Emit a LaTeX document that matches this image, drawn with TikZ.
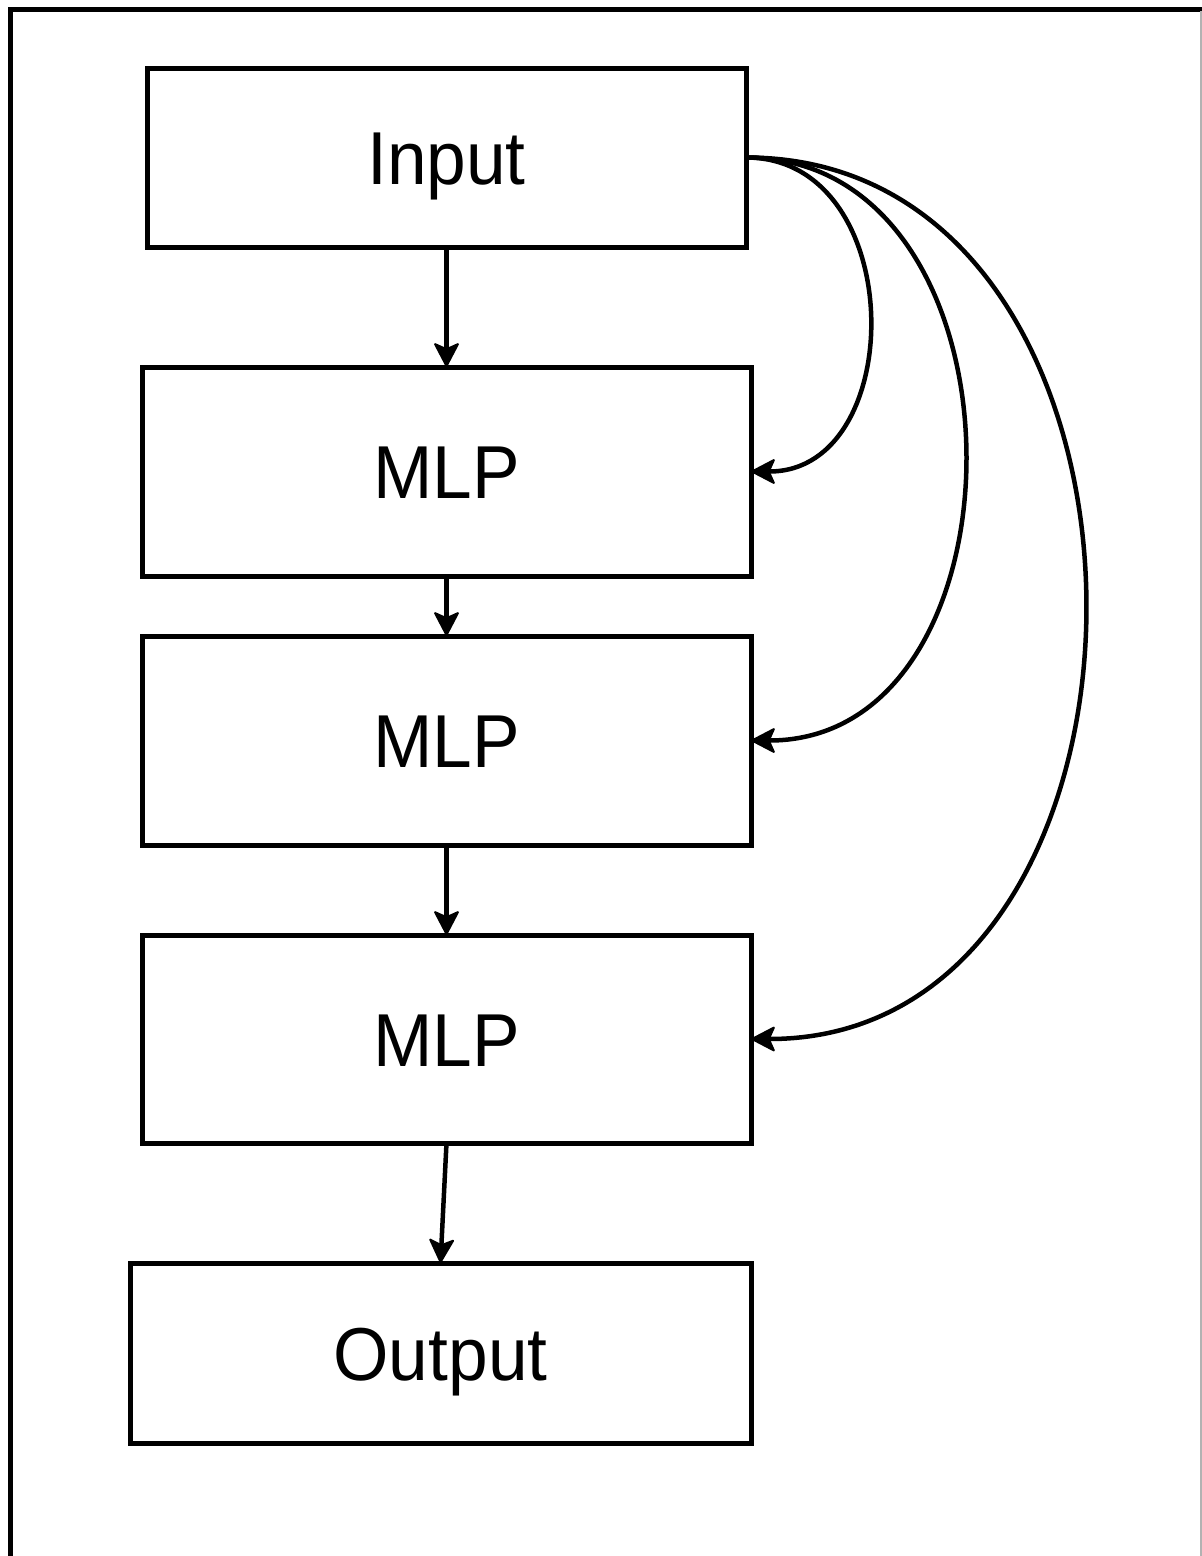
\documentclass[tikz,border=0pt]{standalone}
\usepackage{fontspec}
\setmainfont{Liberation Sans}[FakeStretch=0.95]
\usetikzlibrary{arrows.meta}
\begin{document}
\begin{tikzpicture}[x=1pt,y=-1pt,
  block/.style={draw,line width=5pt,inner sep=0pt,outer sep=0pt,
    text height=54pt,text depth=0pt,
    font=\fontsize{75}{80}\selectfont},
  flow/.style={line width=4.5pt,line join=miter,
    -{Stealth[length=26pt,width=27pt,inset=6pt,line width=2pt,round=false]}}]
\useasboundingbox (0,0) rectangle (1202,1556);
% surrounding frame, running past the page edge
\draw[line width=5pt] (10,1570) -- (10,9) -- (1215,9);
\draw[line width=1.5pt,black!30] (1201,11) -- (1201,1556);
% blocks
\node[block,minimum width=599pt,minimum height=179pt] (in) at (446.5,157.5) {Input};
\node[block,minimum width=609pt,minimum height=209pt] (m1) at (446.5,471.5) {MLP};
\node[block,minimum width=609pt,minimum height=209pt] (m2) at (446.5,740.5) {MLP};
\node[block,minimum width=609pt,minimum height=208pt] (m3) at (446.5,1039) {MLP};
\node[block,minimum width=621pt,minimum height=180pt] (out) at (440.5,1353) {Output};
% main chain
\draw[flow] (in.south) -- (m1.north);
\draw[flow] (m1.south) -- (m2.north);
\draw[flow] (m2.south) -- (m3.north);
\draw[flow] (m3.south) -- (out.north);
% skip connections from the input
\draw[flow] (in.east) .. controls +(163,0) and +(158,0) .. (m1.east);
\draw[flow] (in.east) .. controls +(290,0) and +(285,0) .. (m2.east);
\draw[flow] (in.east) .. controls +(450,0) and +(445,0) .. (m3.east);
\end{tikzpicture}
\end{document}
